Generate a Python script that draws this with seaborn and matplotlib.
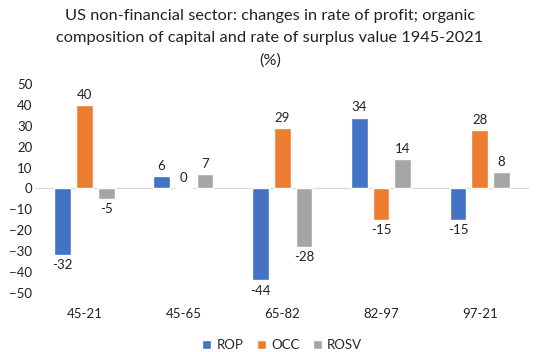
import pandas as pd
import seaborn as sns
import matplotlib.pyplot as plt

periods = ['45-21', '45-65', '65-82', '82-97', '97-21']
rop = [-32, 6, -44, 34, -15]
occ = [40, 0, 29, -15, 28]
rosv = [-5, 7, -28, 14, 8]
series = ['ROP', 'OCC', 'ROSV']
colors = ['#4472C4', '#ED7D31', '#A5A5A5']

df = pd.DataFrame({'period': periods * 3,
                   'value': rop + occ + rosv,
                   'series': [s for s in series for _ in periods]})

sns.set_style('white')
plt.rcParams['font.family'] = ['Lato', 'DejaVu Sans']

fig = plt.figure(figsize=(5.4, 3.52), dpi=100)
ax = fig.add_axes([0.065, 0.168, 0.915, 0.593])
sns.barplot(data=df, x='period', y='value', hue='series', palette=colors,
            saturation=1, width=0.66, gap=0.23, ax=ax, legend=True)

ax.set_ylim(-50, 50)
ax.set_yticks(range(-50, 51, 10))
ax.axhline(0, color='#d9d9d9', lw=0.8, zorder=0)
for s in ax.spines.values():
    s.set_visible(False)
ax.set_xlabel('')
ax.set_ylabel('')
ax.tick_params(axis='y', labelsize=9.5, colors='#222222', pad=2, length=0)
ax.tick_params(axis='x', labelsize=9.5, colors='#222222', pad=11, length=0)

for cont in ax.containers:
    ax.bar_label(cont, fmt='%d', padding=3, fontsize=9.5, color='#222222')

ax.legend(loc='upper center', bbox_to_anchor=(0.5, -0.165), ncol=3, frameon=False,
          fontsize=9.5, handlelength=0.7, handleheight=0.7, handletextpad=0.4,
          columnspacing=1.0)

fig.suptitle('US non-financial sector: changes in rate of profit; organic\n'
             'composition of capital and rate of surplus value 1945-2021\n(%)',
             y=0.975, fontsize=11.8, color='#222222', linespacing=1.75)

fig.savefig('out.png', dpi=100)
